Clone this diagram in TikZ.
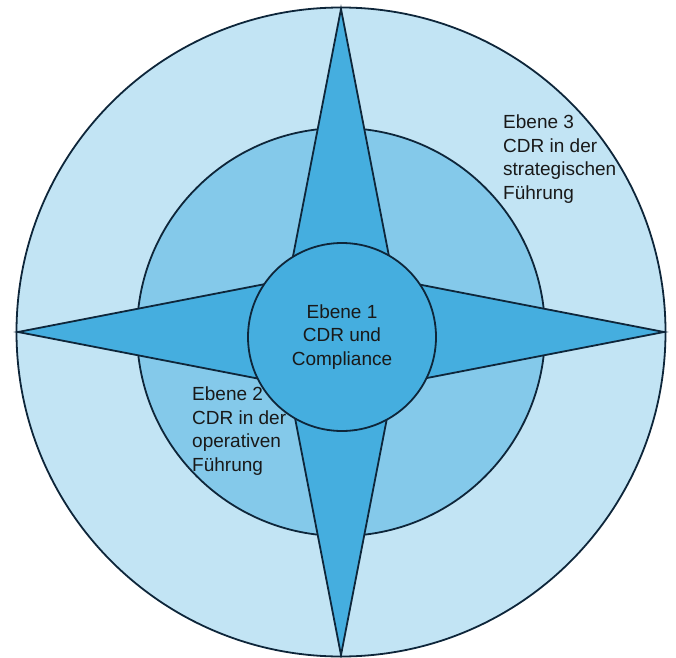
\documentclass[tikz,border=0pt]{standalone}
\usepackage{fontspec}
\setmainfont{Liberation Sans}
\usetikzlibrary{positioning}

\definecolor{ringout}{RGB}{194,228,244}
\definecolor{ringmid}{RGB}{132,201,234}
\definecolor{starblue}{RGB}{69,174,223}
\definecolor{edge}{RGB}{14,38,58}

\begin{document}
\begin{tikzpicture}[
  x=1pt,y=1pt,
  ring/.style={circle,draw=edge,line width=1.8pt,inner sep=0pt},
  arm/.style={fill=starblue,draw=edge,line width=1.8pt},
  lbl/.style={align=left,inner sep=0pt,font=\fontsize{19}{23.5}\selectfont,text=black!90}
]
\useasboundingbox (0,0) rectangle (676,657);

\node[ring,fill=ringout,minimum size=649pt] (outer) at (341,325) {};
\node[ring,fill=ringmid,minimum size=408pt] (middle) at (341,325) {};

% four-pointed star
\draw[arm] (341,648) -- (393.5,377.5) -- (664,325) -- (393.5,272.5)
  -- (341,2) -- (288.5,272.5) -- (18,325) -- (288.5,377.5) -- cycle;

\node[ring,fill=starblue,minimum size=188pt,lbl,align=center] (core) at (342,320)
  {Ebene 1\\CDR und\\Compliance};

\node[lbl,anchor=west] (level3) at (503,498)
  {Ebene 3\\CDR in der\\strategischen\\Führung};
\node[lbl,anchor=west] (level2) at (192,226)
  {Ebene 2\\CDR in der\\operativen\\Führung};
\end{tikzpicture}
\end{document}
